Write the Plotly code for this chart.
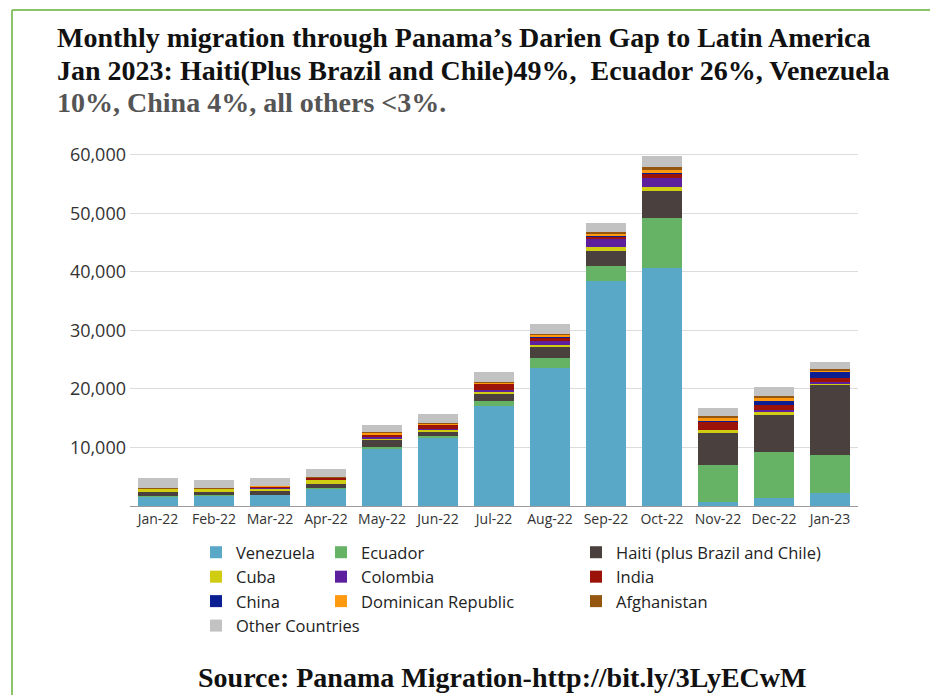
import plotly.graph_objects as go

months = ["Jan-22", "Feb-22", "Mar-22", "Apr-22", "May-22", "Jun-22", "Jul-22",
          "Aug-22", "Sep-22", "Oct-22", "Nov-22", "Dec-22", "Jan-23"]

venezuela = [1650, 1770, 1880, 2960, 9860, 11740, 17100, 23540, 38460, 40630, 630, 1420, 2280]
ecuador = [60, 50, 60, 80, 200, 200, 850, 1710, 2620, 8550, 6380, 7810, 6380]
haiti = [740, 620, 750, 740, 1200, 850, 1200, 1880, 2560, 4560, 5530, 6320, 12140]
cuba = [480, 480, 340, 680, 350, 250, 350, 440, 580, 750, 460, 680, 150]
colombia = [40, 40, 60, 50, 150, 150, 250, 600, 1370, 1540, 50, 150, 200]
india = [50, 60, 220, 290, 500, 800, 1100, 600, 450, 850, 1420, 850, 800]
china = [0, 0, 0, 0, 20, 20, 30, 50, 50, 100, 50, 740, 970]
dominican = [30, 30, 120, 80, 200, 100, 200, 450, 500, 500, 450, 450, 250]
afghanistan = [20, 20, 30, 50, 100, 100, 120, 180, 180, 400, 400, 400, 200]
other = [1660, 1320, 1380, 1340, 1270, 1460, 1650, 1710, 1550, 1920, 1330, 1470, 1190]

series = [
    ("Venezuela", venezuela, "#5aa8c8", "legend"),
    ("Ecuador", ecuador, "#66b366", "legend2"),
    ("Haiti (plus Brazil and Chile)", haiti, "#4a403e", "legend3"),
    ("Cuba", cuba, "#cfcc12", "legend"),
    ("Colombia", colombia, "#5e1f9c", "legend2"),
    ("India", india, "#9a1208", "legend3"),
    ("China", china, "#0c1f92", "legend"),
    ("Dominican Republic", dominican, "#ff9910", "legend2"),
    ("Afghanistan", afghanistan, "#95560f", "legend3"),
    ("Other Countries", other, "#c2c2c2", "legend"),
]

fig = go.Figure()
for name, vals, color, lg in series:
    fig.add_trace(go.Bar(x=months, y=vals, name=name, marker=dict(color=color, line=dict(width=0)),
                         legend=lg))

W, H = 930, 695
ml, mr, mt, mb = 130, 72, 149, 189
pw, ph = W - ml - mr, H - mt - mb

def px(x):
    return (x - ml) / pw

def py(y):
    return (H - mb - y) / ph

legfont = dict(family="Open Sans, Lato, sans-serif", size=16.5, color="#222")
legcommon = dict(orientation="v", xanchor="left", yanchor="top", font=legfont,
                 bgcolor="rgba(0,0,0,0)", tracegroupgap=0, itemwidth=30,
                 traceorder="normal")

fig.update_layout(
    width=W, height=H,
    margin=dict(l=ml, r=mr, t=mt, b=mb),
    paper_bgcolor="white", plot_bgcolor="white",
    barmode="stack", bargap=0.29,
    font=dict(family="Open Sans, Lato, sans-serif", color="#333"),
    xaxis=dict(showgrid=False, showline=True, linecolor="#9a9a9a", linewidth=1,
               ticks="", tickfont=dict(size=14, color="#333")),
    yaxis=dict(range=[0, 61000], tickvals=[10000, 20000, 30000, 40000, 50000, 60000],
               tickformat=",", showgrid=True, gridcolor="#dcdcdc", zeroline=False,
               showline=False, ticks="", tickfont=dict(size=18, color="#333"),
               ticklabelstandoff=3),
    legend=dict(x=px(196), y=py(535), **legcommon),
    legend2=dict(x=px(321), y=py(535), **legcommon),
    legend3=dict(x=px(576), y=py(535), **legcommon),
    showlegend=True,
)

serif = "Liberation Serif, Times New Roman, serif"
title_font = dict(family=serif, size=28, color="#111")
fig.add_annotation(xref="paper", yref="paper", x=px(55), y=py(20), xanchor="left", yanchor="top",
                   text="<b>Monthly migration through Panama\u2019s Darien Gap to Latin America</b>",
                   showarrow=False, font=title_font)
fig.add_annotation(xref="paper", yref="paper", x=px(55), y=py(53), xanchor="left", yanchor="top",
                   text="<b>Jan 2023: Haiti(Plus Brazil and Chile)49%,  Ecuador 26%, Venezuela</b>",
                   showarrow=False, font=title_font)
fig.add_annotation(xref="paper", yref="paper", x=px(55), y=py(85), xanchor="left", yanchor="top",
                   text="<b>10%, China 4%, all others <3%.</b>",
                   showarrow=False, font=dict(family=serif, size=28, color="#555"))
fig.add_annotation(xref="paper", yref="paper", x=px(502), y=py(677), xanchor="center", yanchor="middle",
                   text="<b>Source: Panama Migration-http://bit.ly/3LyECwM</b>",
                   showarrow=False, font=dict(family=serif, size=28, color="#111"))

green = "#8cc46a"
fig.add_shape(type="line", xref="paper", yref="paper", x0=px(12), x1=px(930), y0=py(10), y1=py(10),
              line=dict(color=green, width=2), layer="above")
fig.add_shape(type="line", xref="paper", yref="paper", x0=px(12), x1=px(12), y0=py(10), y1=py(695),
              line=dict(color=green, width=2), layer="above")

fig.write_html("out.html")
